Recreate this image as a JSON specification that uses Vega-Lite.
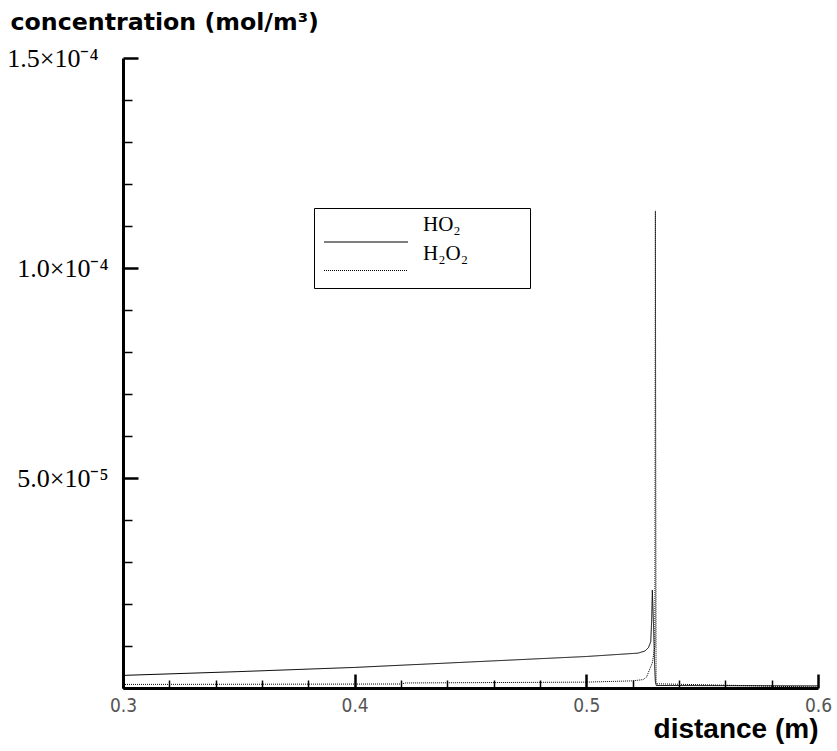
{
  "$schema": "https://vega.github.io/schema/vega-lite/v6.json",
  "width": 695,
  "height": 630,
  "autosize": {"type": "none"},
  "padding": {"left": 123, "top": 58, "right": 19, "bottom": 63},
  "background": "white",
  "config": {"view": {"stroke": null}},
  "data": {
    "values": [
      {"series": "HO₂", "x": 0.3, "y": 3.0e-6},
      {"series": "HO₂", "x": 0.35, "y": 3.9e-6},
      {"series": "HO₂", "x": 0.4, "y": 4.9e-6},
      {"series": "HO₂", "x": 0.45, "y": 6.2e-6},
      {"series": "HO₂", "x": 0.5, "y": 7.5e-6},
      {"series": "HO₂", "x": 0.5223, "y": 8.3e-6},
      {"series": "HO₂", "x": 0.5253, "y": 8.8e-6},
      {"series": "HO₂", "x": 0.5268, "y": 9.6e-6},
      {"series": "HO₂", "x": 0.5278, "y": 1.1e-5},
      {"series": "HO₂", "x": 0.5282, "y": 1.6e-5},
      {"series": "HO₂", "x": 0.5285, "y": 2.33e-5},
      {"series": "HO₂", "x": 0.529, "y": 1.5e-5},
      {"series": "HO₂", "x": 0.5295, "y": 5e-6},
      {"series": "HO₂", "x": 0.5298, "y": 1.5e-6},
      {"series": "HO₂", "x": 0.5302, "y": 6e-7},
      {"series": "HO₂", "x": 0.6, "y": 5e-7},
      {"series": "H₂O₂", "x": 0.3, "y": 8.5e-7},
      {"series": "H₂O₂", "x": 0.42, "y": 9.5e-7},
      {"series": "H₂O₂", "x": 0.422, "y": 1.2e-6},
      {"series": "H₂O₂", "x": 0.5, "y": 1.4e-6},
      {"series": "H₂O₂", "x": 0.52, "y": 1.7e-6},
      {"series": "H₂O₂", "x": 0.5245, "y": 2.0e-6},
      {"series": "H₂O₂", "x": 0.526, "y": 2.6e-6},
      {"series": "H₂O₂", "x": 0.527, "y": 4.0e-6},
      {"series": "H₂O₂", "x": 0.5285, "y": 6.0e-6},
      {"series": "H₂O₂", "x": 0.5296, "y": 1.0e-5},
      {"series": "H₂O₂", "x": 0.5298, "y": 1.136e-4},
      {"series": "H₂O₂", "x": 0.5301, "y": 1.0e-6},
      {"series": "H₂O₂", "x": 0.6, "y": 2e-7}
    ]
  },
  "mark": {"type": "line", "color": "black", "strokeWidth": 1, "clip": true},
  "encoding": {
    "x": {
      "field": "x",
      "type": "quantitative",
      "scale": {"domain": [0.3, 0.6], "nice": false, "zero": false},
      "axis": {
        "values": [0.3, 0.32, 0.34, 0.36, 0.38, 0.4, 0.42, 0.44, 0.46, 0.48, 0.5, 0.52, 0.54, 0.56, 0.58, 0.6],
        "labelExpr": "round(datum.value*100) % 10 == 0 ? format(datum.value, '.1f') : ''",
        "grid": false,
        "domainColor": "black",
        "domainWidth": 3,
        "tickColor": "black",
        "tickSize": {"condition": {"test": "round(datum.value*100) % 10 == 0", "value": -14}, "value": -8},
        "tickWidth": {"condition": {"test": "round(datum.value*100) % 10 == 0", "value": 2.5}, "value": 1.5},
        "labelFont": "Liberation Sans Narrow, DejaVu Sans Condensed, Liberation Sans, sans-serif",
        "labelFontSize": 19,
        "labelColor": "#555555",
        "labelPadding": 22,
        "labelFlush": false,
        "labelOverlap": false,
        "title": "distance (m)",
        "titleFont": "Liberation Sans",
        "titleFontWeight": "bold",
        "titleFontSize": 28,
        "titleColor": "black",
        "titleAnchor": "end",
        "titleAlign": "right",
        "titleBaseline": "alphabetic",
        "titleX": 695,
        "titleY": 49
      }
    },
    "y": {
      "field": "y",
      "type": "quantitative",
      "scale": {"domain": [0, 0.00015], "nice": false},
      "axis": {
        "values": [0, 0.00001, 0.00002, 0.00003, 0.00004, 0.00005, 0.00006, 0.00007, 0.00008, 0.00009, 0.0001, 0.00011, 0.00012, 0.00013, 0.00014, 0.00015],
        "labelExpr": "round(datum.value*1e6) == 150 ? '1.5×10⁻⁴' : round(datum.value*1e6) == 100 ? '1.0×10⁻⁴' : round(datum.value*1e6) == 50 ? '5.0×10⁻⁵' : ''",
        "grid": false,
        "domainColor": "black",
        "domainWidth": 3,
        "tickColor": "black",
        "tickSize": {"condition": {"test": "round(datum.value*1e6) % 50 == 0", "value": -15}, "value": -9},
        "tickWidth": {"condition": {"test": "round(datum.value*1e6) % 50 == 0", "value": 2.5}, "value": 1.5},
        "labelFont": "Liberation Serif",
        "labelFontSize": 26,
        "labelColor": "black",
        "labelPadding": {"condition": {"test": "round(datum.value*1e6) == 150", "value": 40}, "value": 30},
        "labelBaseline": "middle",
        "labelFlush": false,
        "labelOverlap": false,
        "title": "concentration (mol/m³)",
        "titleFont": "DejaVu Sans",
        "titleFontWeight": "bold",
        "titleFontSize": 23.7,
        "titleColor": "black",
        "titleAngle": 0,
        "titleAlign": "left",
        "titleBaseline": "alphabetic",
        "titleX": -113,
        "titleY": -29
      }
    },
    "strokeDash": {
      "field": "series",
      "type": "nominal",
      "scale": {"domain": ["HO₂", "H₂O₂"], "range": [[1, 0], [1, 1]]},
      "legend": {
        "orient": "none",
        "legendX": 191,
        "legendY": 150,
        "title": " ",
        "titleFontSize": 10,
        "titlePadding": 3.5,
        "padding": 9,
        "strokeColor": "black",
        "fillColor": "white",
        "symbolType": "M-1,0H7M0,0.5",
        "symbolSize": 441,
        "symbolStrokeWidth": 1.2,
        "symbolStrokeColor": "black",
        "labelFont": "Liberation Serif",
        "labelFontSize": 21,
        "labelColor": "black",
        "labelBaseline": "alphabetic",
        "labelOffset": 77,
        "rowPadding": -8.5,
        "labelExpr": "datum.label + '\u00a0\u00a0\u00a0\u00a0\u00a0\u00a0\u00a0\u00a0\u00a0\u00a0\u200b'",
        "encode": {"labels": {"update": {"dy": {"value": -11}}}}
      }
    }
  }
}
